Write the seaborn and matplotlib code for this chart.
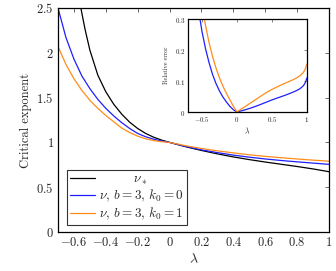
import pandas as pd
import matplotlib
matplotlib.use('Agg')
import matplotlib.pyplot as plt
import seaborn as sns

# main panel: critical exponent vs lambda
lam_star = [-0.56, -0.53, -0.5, -0.45, -0.4, -0.35, -0.3, -0.25, -0.2, -0.15, -0.1, -0.05, 0.0,
            0.1, 0.2, 0.3, 0.4, 0.5, 0.6, 0.7, 0.8, 0.9, 1.0]
nu_star = [2.53, 2.26, 2.03, 1.75, 1.565, 1.425, 1.315, 1.225, 1.155, 1.10, 1.058, 1.026, 1.0,
           0.952, 0.91, 0.872, 0.838, 0.808, 0.781, 0.756, 0.731, 0.704, 0.673]

lam = [-0.7, -0.65, -0.6, -0.55, -0.5, -0.45, -0.4, -0.35, -0.3, -0.25, -0.2, -0.15, -0.1,
       -0.05, 0.0, 0.1, 0.2, 0.3, 0.4, 0.5, 0.6, 0.7, 0.8, 0.9, 1.0]
nu_k0 = [2.5, 2.17, 1.93, 1.74, 1.60, 1.48, 1.38, 1.295, 1.22, 1.155, 1.10, 1.063, 1.036,
         1.016, 1.0, 0.955, 0.917, 0.886, 0.858, 0.835, 0.815, 0.798, 0.783, 0.769, 0.755]
nu_k1 = [2.07, 1.87, 1.71, 1.58, 1.47, 1.38, 1.30, 1.23, 1.16, 1.11, 1.07, 1.04, 1.02,
         1.008, 1.0, 0.963, 0.932, 0.906, 0.883, 0.862, 0.844, 0.829, 0.815, 0.802, 0.79]

# inset: relative error
lam_err = [-0.55, -0.5, -0.45, -0.4, -0.35, -0.3, -0.25, -0.2, -0.15, -0.1, -0.05, 0.0,
           0.05, 0.1, 0.2, 0.3, 0.4, 0.5, 0.6, 0.7, 0.8, 0.85, 0.9, 0.95, 0.975, 1.0]
err_k0 = [0.33, 0.26, 0.205, 0.16, 0.122, 0.092, 0.068, 0.048, 0.032, 0.018, 0.007, 0.0,
          0.003, 0.006, 0.013, 0.021, 0.03, 0.039, 0.047, 0.055, 0.064, 0.069, 0.075, 0.085,
          0.094, 0.11]
err_k1 = [0.45, 0.35, 0.28, 0.225, 0.18, 0.142, 0.11, 0.083, 0.06, 0.039, 0.018, 0.0,
          0.008, 0.015, 0.03, 0.045, 0.06, 0.073, 0.084, 0.094, 0.104, 0.11, 0.117, 0.128,
          0.138, 0.155]

xticks = [-0.6, -0.4, -0.2, 0, 0.2, 0.4, 0.6, 0.8, 1]
xtick_labels = ['$-0.6$', '$-0.4$', '$-0.2$', '$0$', '$0.2$', '$0.4$', '$0.6$', '$0.8$', '$1$']
yticks = [0, 0.5, 1, 1.5, 2, 2.5]
ytick_labels = ['$0$', '$0.5$', '$1$', '$1.5$', '$2$', '$2.5$']
in_xticks = [-0.5, 0, 0.5, 1]
in_xtick_labels = ['$-0.5$', '$0$', '$0.5$', '$1$']
in_yticks = [0, 0.1, 0.2, 0.3]
in_ytick_labels = ['$0$', '$0.1$', '$0.2$', '$0.3$']

labels = [r'$\qquad\quad\nu_*$', r'$\nu$, $b=3$, $k_0=0$', r'$\nu$, $b=3$, $k_0=1$']
colors = ['black', '#1f1fff', '#ff8c1a']


def style_axes(ax):
    ax.tick_params(direction='in', top=True, right=True, color='#555555')
    for s in ax.spines.values():
        s.set_linewidth(0.9)
        s.set_color('black')


def main():
    sns.set_style('white')
    plt.rcParams['font.family'] = 'serif'
    plt.rcParams['font.serif'] = ['cmr10', 'DejaVu Serif']
    plt.rcParams['mathtext.fontset'] = 'cm'
    plt.rcParams['axes.unicode_minus'] = False

    fig = plt.figure(figsize=(3.36, 2.71), dpi=100)
    ax = fig.add_axes([0.1726, 0.1439, 0.8065, 0.8266])

    sns.lineplot(x=lam_star, y=nu_star, ax=ax, color=colors[0], lw=0.9, label=labels[0])
    sns.lineplot(x=lam, y=nu_k0, ax=ax, color=colors[1], lw=0.9, label=labels[1])
    sns.lineplot(x=lam, y=nu_k1, ax=ax, color=colors[2], lw=0.9, label=labels[2])
    ax.set_xlim(-0.7, 1)
    ax.set_ylim(0, 2.5)
    ax.set_xticks(xticks)
    ax.set_xticklabels(xtick_labels, fontsize=9)
    ax.set_yticks(yticks)
    ax.set_yticklabels(ytick_labels, fontsize=9)
    ax.tick_params(length=3, width=0.6, pad=3)
    ax.set_xlabel(r'$\lambda$', fontsize=10, labelpad=3)
    ax.set_ylabel('Critical exponent', fontsize=9, labelpad=3)
    style_axes(ax)

    leg = ax.legend(loc='lower left', bbox_to_anchor=(0.032, 0.03), fontsize=9.5,
                    fancybox=False, framealpha=1, edgecolor='#333333',
                    handlelength=1.9, handletextpad=0.3, borderpad=0.25,
                    labelspacing=0.1, borderaxespad=0)
    leg.get_frame().set_linewidth(0.8)

    ins = fig.add_axes([0.5595, 0.5867, 0.354, 0.343])
    sns.lineplot(x=lam_err, y=err_k0, ax=ins, color=colors[1], lw=0.9)
    sns.lineplot(x=lam_err, y=err_k1, ax=ins, color=colors[2], lw=0.9)
    ins.set_xlim(-0.7, 1)
    ins.set_ylim(0, 0.3)
    ins.set_xticks(in_xticks)
    ins.set_xticklabels(in_xtick_labels, fontsize=5)
    ins.set_yticks(in_yticks)
    ins.set_yticklabels(in_ytick_labels, fontsize=5)
    ins.tick_params(length=2.5, width=0.5, pad=2)
    ins.set_xlabel(r'$\lambda$', fontsize=5.5, labelpad=2)
    ins.set_ylabel('Relative error', fontsize=4.5, labelpad=4)
    style_axes(ins)

    fig.savefig('out.png', dpi=100)


if __name__ == "__main__":
    main()
